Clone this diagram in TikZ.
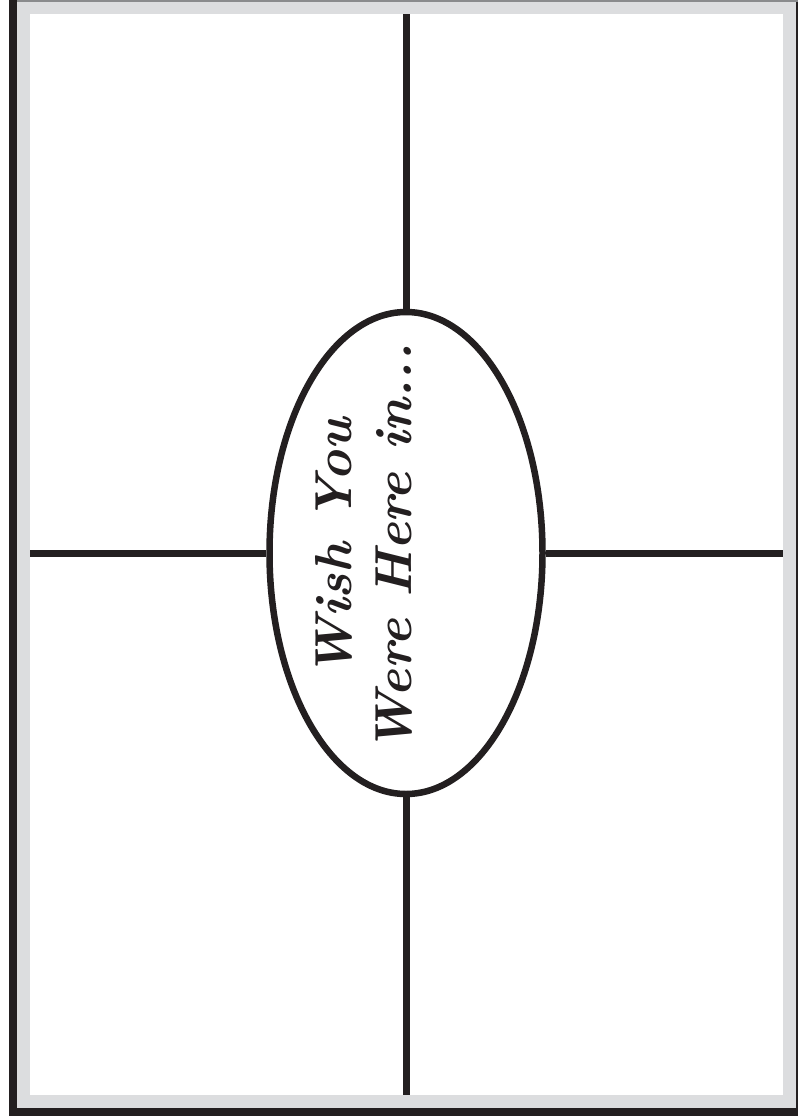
\documentclass[tikz,border=0pt]{standalone}
\usetikzlibrary{shapes.geometric}
\definecolor{frameink}{HTML}{231F20}
\definecolor{framegray}{HTML}{DCDDDF}
\definecolor{topline}{HTML}{8A8B8D}
\tikzset{
  divider/.style={draw=frameink, line width=7pt},
  oval/.style={ellipse, draw=frameink, line width=6.5pt, fill=white, inner sep=0pt,
               minimum width=273pt, minimum height=482pt},
  title/.style={rotate=90, align=center, text=frameink, font=\fontsize{52}{60}\selectfont\bfseries\itshape}
}
\begin{document}
\begin{tikzpicture}[x=1pt,y=-1pt]
\useasboundingbox (0,0) rectangle (798,1120);
\fill[white] (0,0) rectangle (798,1120);
\fill[framegray] (9,0) rectangle (798,1116);
\fill[frameink] (9,0) rectangle (17,1116);
\fill[frameink] (9,1108) rectangle (798,1116);
\fill[frameink] (795.5,0) rectangle (798,1116);
\fill[topline] (17,0) rectangle (798,1.5);
\fill[white] (30,14) rectangle (783,1095);
\coordinate (t) at (406,14);
\coordinate (b) at (406,1095);
\coordinate (l) at (30,553);
\coordinate (r) at (783,553);
\node[oval] (e) at (406,553) {};
\draw[divider] (t) -- (e.north);
\draw[divider] (e.south) -- (b);
\draw[divider] (l) -- (e.west);
\draw[divider] (e.east) -- (r);
\node[title] (txt) at (364,548) {Wish You\\Were Here in...};
\end{tikzpicture}
\end{document}
